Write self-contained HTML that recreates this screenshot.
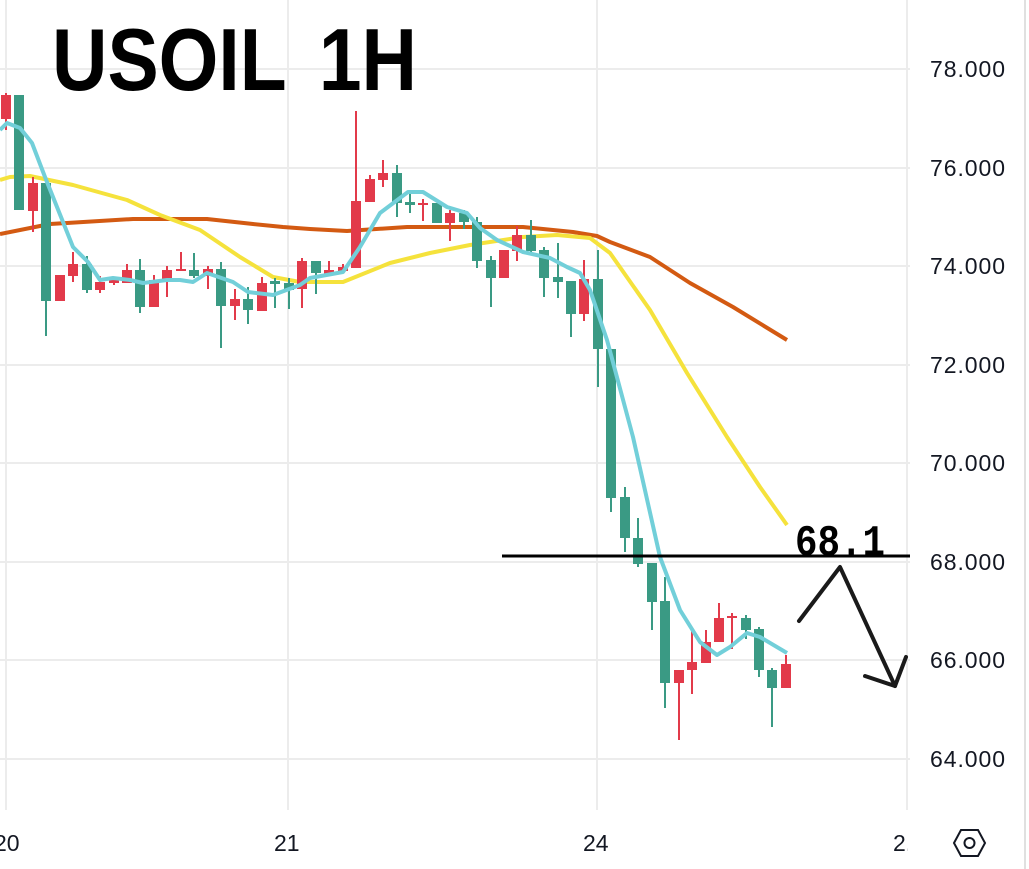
<!DOCTYPE html>
<html><head><meta charset="utf-8"><style>
html,body{margin:0;padding:0;background:#fff;}
svg{display:block;}
.ax{font-family:"Liberation Sans",sans-serif;font-size:23px;fill:#131722;}
</style></head><body>
<svg width="1029" height="869" viewBox="0 0 1029 869" xmlns="http://www.w3.org/2000/svg">
<rect width="1029" height="869" fill="#fff"/>
<g stroke="#ececec" stroke-width="2">
<line x1="0" y1="69" x2="910" y2="69"/><line x1="0" y1="168" x2="910" y2="168"/>
<line x1="0" y1="266" x2="910" y2="266"/><line x1="0" y1="365" x2="910" y2="365"/>
<line x1="0" y1="463" x2="910" y2="463"/><line x1="0" y1="562" x2="910" y2="562"/>
<line x1="0" y1="660" x2="910" y2="660"/><line x1="0" y1="759" x2="910" y2="759"/>
<line x1="6" y1="0" x2="6" y2="810"/><line x1="288" y1="0" x2="288" y2="810"/>
<line x1="597" y1="0" x2="597" y2="810"/><line x1="907" y1="0" x2="907" y2="810"/>
</g>
<line x1="1025" y1="0" x2="1025" y2="869" stroke="#e0e0e0" stroke-width="2"/>
<text x="52" y="90" font-family="Liberation Sans,sans-serif" font-weight="bold" font-size="88" textLength="365" lengthAdjust="spacingAndGlyphs" fill="#000" word-spacing="14">USOIL 1H</text>
<polyline fill="none" stroke="#d35a12" stroke-width="4" stroke-linejoin="round" points="0,234 50,224 67,223 133,219 207,219 253,224 283,227 310,229 347,231 407,227 523,227 573,232 597,236 610,242 650,257 690,283 733,307 787,340"/>
<polyline fill="none" stroke="#f5e23c" stroke-width="4" stroke-linejoin="round" points="0,180 10,177 30,176 73,185 127,200 160,215 200,230 240,257 273,277 300,282 343,282 390,263 430,253 470,245 523,237 557,235 590,238 610,253 650,310 687,373 727,437 760,487 787,525"/>
<g fill="#3a9a84" stroke="#3a9a84">
<g stroke-width="2">
<line x1="19" y1="95" x2="19" y2="210"/><line x1="46" y1="183" x2="46" y2="336"/><line x1="87" y1="256" x2="87" y2="293"/>
<line x1="140" y1="259" x2="140" y2="313"/><line x1="194" y1="253" x2="194" y2="278"/><line x1="221" y1="262" x2="221" y2="348"/>
<line x1="248" y1="287" x2="248" y2="324"/><line x1="275" y1="278" x2="275" y2="308"/><line x1="289" y1="278" x2="289" y2="309"/>
<line x1="316" y1="261" x2="316" y2="294"/><line x1="397" y1="165" x2="397" y2="217"/><line x1="410" y1="191" x2="410" y2="213"/>
<line x1="437" y1="203" x2="437" y2="223"/><line x1="464" y1="210" x2="464" y2="229"/><line x1="477" y1="217" x2="477" y2="268"/>
<line x1="491" y1="256" x2="491" y2="307"/><line x1="531" y1="220" x2="531" y2="253"/><line x1="544" y1="247" x2="544" y2="297"/>
<line x1="558" y1="243" x2="558" y2="298"/><line x1="571" y1="281" x2="571" y2="337"/><line x1="598" y1="250" x2="598" y2="387"/>
<line x1="611" y1="349" x2="611" y2="512"/><line x1="625" y1="487" x2="625" y2="552"/><line x1="638" y1="518" x2="638" y2="567"/>
<line x1="652" y1="563" x2="652" y2="630"/><line x1="665" y1="577" x2="665" y2="708"/><line x1="746" y1="615" x2="746" y2="639"/>
<line x1="759" y1="627" x2="759" y2="677"/><line x1="772" y1="668" x2="772" y2="727"/>
</g>
<g stroke="none">
<rect x="14" y="95" width="10" height="115"/><rect x="41" y="183" width="10" height="118"/><rect x="82" y="264" width="10" height="26"/>
<rect x="135" y="270" width="10" height="37"/><rect x="189" y="270" width="10" height="6"/><rect x="216" y="269" width="10" height="37"/>
<rect x="243" y="299" width="10" height="11"/><rect x="270" y="281" width="10" height="3"/><rect x="284" y="283" width="10" height="7"/>
<rect x="311" y="261" width="10" height="12"/><rect x="392" y="173" width="10" height="30"/><rect x="405" y="202" width="10" height="3"/>
<rect x="432" y="203" width="10" height="20"/><rect x="459" y="213" width="10" height="9"/><rect x="472" y="222" width="10" height="39"/>
<rect x="486" y="260" width="10" height="18"/><rect x="526" y="235" width="10" height="16"/><rect x="539" y="250" width="10" height="28"/>
<rect x="553" y="277" width="10" height="5"/><rect x="566" y="281" width="10" height="33"/><rect x="593" y="279" width="10" height="70"/>
<rect x="606" y="349" width="10" height="149"/><rect x="620" y="497" width="10" height="41"/><rect x="633" y="538" width="10" height="26"/>
<rect x="647" y="563" width="10" height="39"/><rect x="660" y="601" width="10" height="82"/><rect x="741" y="618" width="10" height="12"/>
<rect x="754" y="629" width="10" height="41"/><rect x="767" y="670" width="10" height="18"/>
</g></g>
<g fill="#e23a4a" stroke="#e23a4a">
<g stroke-width="2">
<line x1="6" y1="93" x2="6" y2="130"/><line x1="33" y1="177" x2="33" y2="232"/><line x1="73" y1="252" x2="73" y2="282"/>
<line x1="100" y1="276" x2="100" y2="293"/><line x1="114" y1="277" x2="114" y2="285"/><line x1="127" y1="264" x2="127" y2="283"/>
<line x1="154" y1="275" x2="154" y2="307"/><line x1="167" y1="266" x2="167" y2="297"/><line x1="181" y1="252" x2="181" y2="271"/>
<line x1="208" y1="266" x2="208" y2="289"/><line x1="235" y1="289" x2="235" y2="320"/><line x1="262" y1="277" x2="262" y2="311"/>
<line x1="302" y1="258" x2="302" y2="308"/><line x1="329" y1="261" x2="329" y2="274"/><line x1="343" y1="264" x2="343" y2="271"/>
<line x1="356" y1="111" x2="356" y2="268"/><line x1="370" y1="175" x2="370" y2="202"/><line x1="383" y1="160" x2="383" y2="187"/>
<line x1="423" y1="199" x2="423" y2="221"/><line x1="450" y1="210" x2="450" y2="241"/><line x1="504" y1="250" x2="504" y2="278"/>
<line x1="517" y1="226" x2="517" y2="261"/><line x1="584" y1="260" x2="584" y2="321"/><line x1="679" y1="670" x2="679" y2="740"/>
<line x1="692" y1="628" x2="692" y2="694"/><line x1="706" y1="630" x2="706" y2="663"/><line x1="719" y1="603" x2="719" y2="642"/>
<line x1="732" y1="613" x2="732" y2="649"/><line x1="786" y1="655" x2="786" y2="688"/>
</g>
<g stroke="none">
<rect x="1" y="95" width="10" height="24"/><rect x="28" y="183" width="10" height="28"/><rect x="55" y="275" width="10" height="26"/>
<rect x="68" y="264" width="10" height="12"/><rect x="95" y="282" width="10" height="8"/><rect x="109" y="280" width="10" height="3"/>
<rect x="122" y="270" width="10" height="13"/><rect x="149" y="280" width="10" height="27"/><rect x="162" y="270" width="10" height="11"/>
<rect x="176" y="269" width="10" height="2"/><rect x="203" y="269" width="10" height="7"/><rect x="230" y="299" width="10" height="7"/>
<rect x="257" y="283" width="10" height="28"/><rect x="297" y="261" width="10" height="28"/><rect x="324" y="270" width="10" height="4"/>
<rect x="338" y="267" width="10" height="4"/><rect x="351" y="201" width="10" height="67"/><rect x="365" y="179" width="10" height="23"/>
<rect x="378" y="173" width="10" height="7"/><rect x="418" y="203" width="10" height="2"/><rect x="445" y="213" width="10" height="10"/>
<rect x="499" y="250" width="10" height="28"/><rect x="512" y="235" width="10" height="16"/><rect x="579" y="279" width="10" height="35"/>
<rect x="674" y="670" width="10" height="13"/><rect x="687" y="662" width="10" height="8"/><rect x="701" y="642" width="10" height="21"/>
<rect x="714" y="618" width="10" height="24"/><rect x="727" y="616" width="10" height="2"/><rect x="781" y="664" width="10" height="24"/>
</g></g>
<polyline fill="none" stroke="#72cfd9" stroke-width="4" stroke-linejoin="round" points="0,130 7,123 20,128 32,143 45,177 73,247 88,262 100,280 113,278 130,280 143,283 167,280 180,280 193,282 207,273 233,282 248,292 273,295 300,285 310,278 343,272 360,247 380,213 408,192 423,192 447,207 467,213 480,228 497,240 523,252 550,258 567,267 580,273 590,290 607,340 633,437 660,557 680,610 700,642 717,655 730,647 747,633 760,637 787,653"/>
<line x1="502" y1="556" x2="910" y2="556" stroke="#000" stroke-width="3"/>
<text x="795" y="555" font-family="Liberation Mono,monospace" font-weight="bold" font-size="44" textLength="90" lengthAdjust="spacingAndGlyphs" fill="#000">68.1</text>
<polyline fill="none" stroke="#1a1a1a" stroke-width="4" stroke-linecap="round" stroke-linejoin="round" points="799,621 840,567 895,686"/>
<polyline fill="none" stroke="#1a1a1a" stroke-width="4" stroke-linecap="round" stroke-linejoin="round" points="865,676 895,686 906,657"/>
<g class="ax">
<text x="930" y="77" textLength="75">78.000</text><text x="930" y="176" textLength="75">76.000</text>
<text x="930" y="274" textLength="75">74.000</text><text x="930" y="373" textLength="75">72.000</text>
<text x="930" y="471" textLength="75">70.000</text><text x="930" y="570" textLength="75">68.000</text>
<text x="930" y="668" textLength="75">66.000</text><text x="930" y="767" textLength="75">64.000</text>
</g>
<text class="ax" x="-6" y="851">20</text><text class="ax" x="274" y="851">21</text>
<text class="ax" x="583" y="851">24</text><text class="ax" x="893" y="851">2.</text>
<rect x="908" y="825" width="20" height="35" fill="#fff"/>
<polygon points="954,843 961,830 978,830 985,843 978,856 961,856" fill="none" stroke="#131722" stroke-width="2"/>
<circle cx="969.5" cy="843" r="5" fill="none" stroke="#131722" stroke-width="2"/>
</svg>
</body></html>
